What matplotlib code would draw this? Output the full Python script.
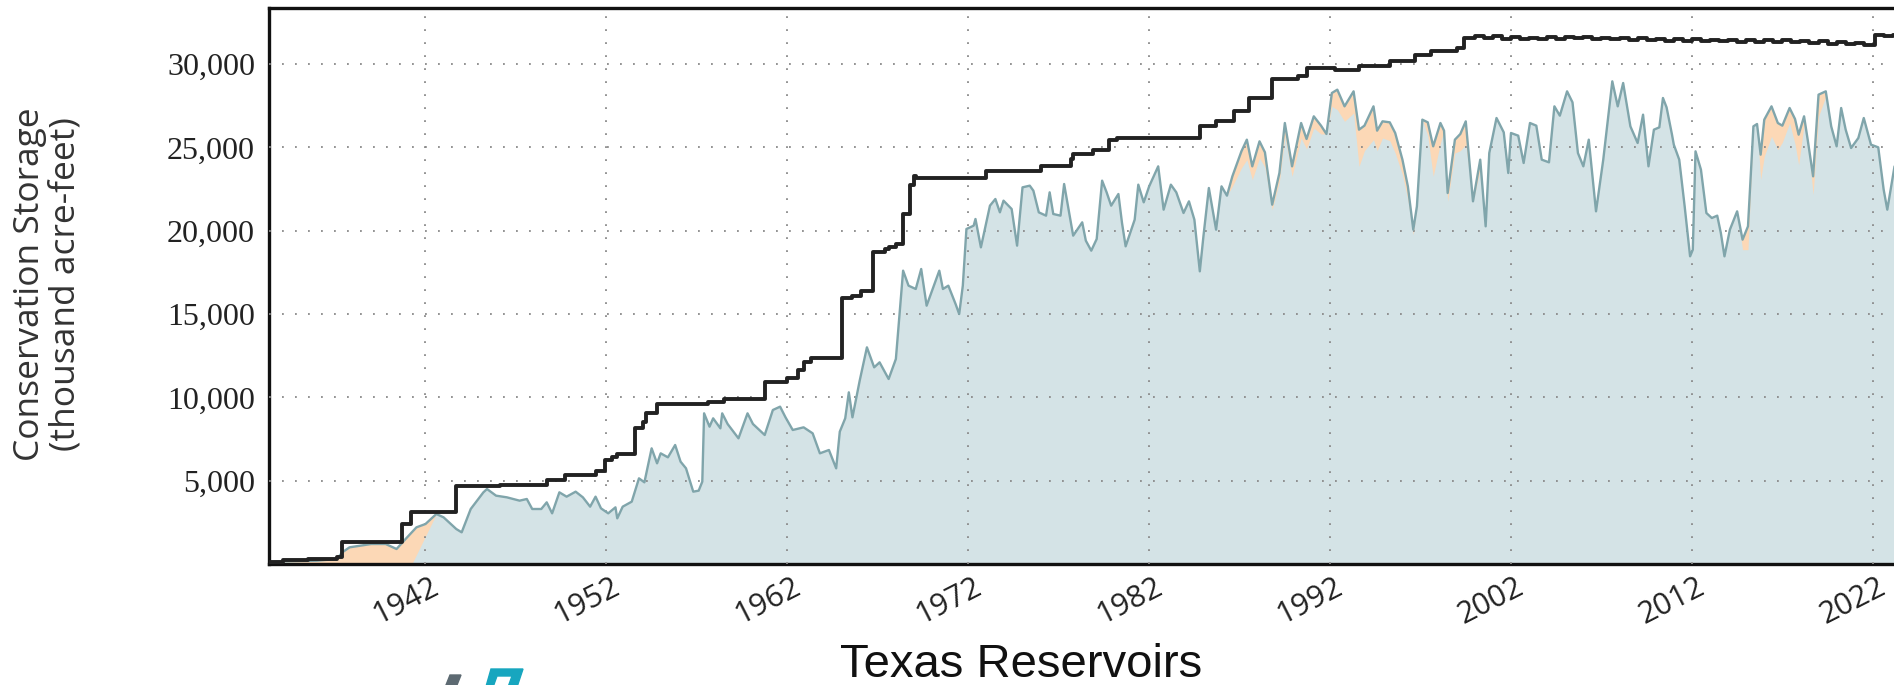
import numpy as np
import matplotlib
matplotlib.use("Agg")
from matplotlib import pyplot as plt
from matplotlib.patches import Polygon
from matplotlib.ticker import FuncFormatter
from matplotlib.transforms import ScaledTranslation

# total conservation capacity (step line), thousand acre-feet
cap_years = [1933.35, 1934.1, 1935.5, 1936.5, 1937.1, 1937.4, 1940.7, 1941.2, 1943.7, 1946.1,
             1948.7, 1949.7, 1951.4, 1951.9, 1952.3, 1952.6, 1953.6, 1954.0, 1954.2, 1954.8,
             1957.6, 1958.5, 1960.75, 1962.0, 1962.6, 1962.9, 1963.3, 1965.0, 1965.6, 1966.1,
             1966.75, 1967.4, 1967.6, 1968.0, 1968.4, 1968.8, 1969.0, 1969.1, 1973.0, 1976.0,
             1977.7, 1977.8, 1978.9, 1979.8, 1980.2, 1984.8, 1985.7, 1986.7, 1987.5, 1988.8,
             1990.2, 1990.7, 1992.3, 1993.6, 1995.3, 1996.7, 1997.6, 1999.0, 1999.4,
             2000.0, 2000.5, 2001.0, 2001.5, 2002.0, 2002.5, 2003.0, 2003.5, 2004.0, 2004.5,
             2005.0, 2005.5, 2006.0, 2006.5, 2007.0, 2007.5, 2008.0, 2008.5, 2009.0, 2009.5,
             2010.0, 2010.5, 2011.0, 2011.5, 2012.0, 2012.5, 2013.0, 2013.5, 2014.0, 2014.5,
             2015.0, 2015.5, 2016.0, 2016.5, 2017.0, 2017.5, 2018.0, 2018.5, 2019.0, 2019.5,
             2020.0, 2020.5, 2021.0, 2021.5, 2022.1, 2022.6, 2023.1, 2023.4]
capacity = [100, 240, 280, 330, 400, 1300, 2400, 3140, 4700, 4760,
            5040, 5340, 5580, 6240, 6440, 6580, 8140, 8540, 9040, 9580,
            9740, 9900, 10940, 11180, 11640, 12140, 12380, 15960, 16100, 16360,
            18740, 18900, 19000, 19200, 21000, 22740, 23260, 23160, 23600, 23900,
            24300, 24600, 24860, 25460, 25580, 26300, 26560, 27160, 27960, 29100,
            29300, 29760, 29660, 29860, 30160, 30560, 30760, 30960, 31560,
            31700, 31560, 31650, 31520, 31600, 31480, 31580, 31500, 31620, 31520,
            31640, 31540, 31620, 31500, 31580, 31480, 31560, 31450, 31540, 31430,
            31520, 31400, 31500, 31380, 31480, 31370, 31460, 31360, 31450, 31340,
            31430, 31330, 31440, 31340, 31420, 31300, 31400, 31280, 31360, 31200,
            31300, 31180, 31260, 31160, 31760, 31680, 31740, 31740]

# reservoir storage, thousand acre-feet
years = [1933.35, 1934.1, 1936.0, 1937.1, 1937.4, 1937.8, 1938.4, 1939.0, 1939.8, 1940.4,
         1940.9, 1941.5, 1942.0, 1942.6, 1943.0, 1943.7, 1944.0, 1944.5, 1945.2, 1945.4,
         1945.9, 1946.5, 1947.2, 1947.6, 1947.9, 1948.4, 1948.7, 1949.0, 1949.4, 1949.8,
         1950.3, 1950.7, 1951.1, 1951.4, 1951.7, 1952.1, 1952.5, 1952.6, 1952.9, 1953.4,
         1953.8, 1954.1, 1954.5, 1954.8, 1955.0, 1955.4, 1955.8, 1956.1, 1956.4, 1956.8,
         1957.1, 1957.3, 1957.4, 1957.7, 1957.9, 1958.3, 1958.4, 1958.7, 1959.3, 1959.8,
         1960.1, 1960.75, 1961.2, 1961.6, 1961.9, 1962.3, 1962.9, 1963.4, 1963.8, 1964.3,
         1964.7, 1964.9, 1965.2, 1965.4, 1965.6, 1966.0, 1966.4, 1966.8, 1967.1, 1967.6,
         1968.0, 1968.4, 1968.7, 1969.1, 1969.4, 1969.7, 1970.4, 1970.6, 1970.9, 1971.3,
         1971.5, 1971.7, 1971.9, 1972.3, 1972.4, 1972.7, 1973.2, 1973.5, 1973.75, 1973.95,
         1974.4, 1974.7, 1975.0, 1975.4, 1975.6, 1975.9, 1976.3, 1976.5, 1976.7, 1977.1,
         1977.3, 1977.8, 1978.3, 1978.5, 1978.8, 1979.1, 1979.4, 1979.65, 1979.9, 1980.3,
         1980.5, 1980.7, 1981.2, 1981.4, 1981.7, 1982.0, 1982.5, 1982.8, 1983.2, 1983.5,
         1983.9, 1984.2, 1984.5, 1984.8, 1985.0, 1985.3, 1985.7, 1986.0, 1986.3, 1986.6,
         1987.1, 1987.4, 1987.7, 1988.1, 1988.4, 1988.8, 1989.2, 1989.5, 1989.9, 1990.4,
         1990.7, 1991.1, 1991.5, 1991.8, 1992.1, 1992.4, 1992.8, 1993.3, 1993.6, 1993.9,
         1994.4, 1994.6, 1994.9, 1995.3, 1995.6, 1996.0, 1996.3, 1996.6, 1996.8, 1997.1,
         1997.4, 1997.7, 1998.1, 1998.3, 1998.5, 1998.9, 1999.2, 1999.5, 1999.9, 2000.3,
         2000.6, 2000.8, 2001.2, 2001.6, 2001.85, 2002.0, 2002.4, 2002.7, 2003.05, 2003.4,
         2003.7, 2004.1, 2004.4, 2004.7, 2005.1, 2005.4, 2005.7, 2006.0, 2006.3, 2006.7,
         2007.1, 2007.4, 2007.6, 2007.9, 2008.2, 2008.6, 2009.0, 2009.3, 2009.6, 2009.9,
         2010.2, 2010.4, 2010.6, 2010.9, 2011.0, 2011.3, 2011.6, 2011.9, 2012.05, 2012.2,
         2012.5, 2012.8, 2013.1, 2013.4, 2013.6, 2013.8, 2014.1, 2014.5, 2014.8, 2015.1,
         2015.4, 2015.6, 2015.8, 2016.0, 2016.4, 2016.75, 2017.0, 2017.4, 2017.7, 2017.9,
         2018.2, 2018.4, 2018.7, 2019.0, 2019.4, 2019.7, 2020.0, 2020.25, 2020.5, 2020.8,
         2021.2, 2021.5, 2021.9, 2022.3, 2022.6, 2022.8, 2023.2, 2023.4]
storage = [100, 150, 200, 300, 700, 1000, 1100, 1200, 1200, 900,
           1500, 2200, 2400, 3000, 2800, 2100, 1900, 3300, 4300, 4500,
           4100, 4000, 3800, 3900, 3300, 3300, 3700, 3040, 4300, 4040,
           4340, 4000, 3440, 4040, 3340, 3040, 3400, 2740, 3440, 3740,
           5140, 4900, 6940, 6040, 6640, 6400, 7140, 6140, 5740, 4340,
           4400, 4940, 9040, 8240, 8740, 8140, 9040, 8400, 7540, 9040,
           8400, 7740, 9240, 9440, 8800, 8040, 8200, 7840, 6640, 6840,
           5740, 7940, 8740, 10300, 8800, 11000, 13000, 11800, 12100, 11100,
           12300, 17600, 16700, 16500, 17700, 15500, 17600, 16500, 16700, 15600,
           15000, 16700, 20100, 20300, 20700, 19000, 21500, 21900, 21100, 21800,
           21300, 19100, 22600, 22700, 22400, 21100, 20900, 22300, 21000, 20900,
           22800, 19700, 20500, 19400, 18800, 19500, 23000, 22300, 21500, 22200,
           20460, 19060, 20660, 22760, 21700, 22660, 23860, 21260, 22760, 22300,
           21060, 21760, 20660, 17560, 19660, 22560, 20060, 22660, 22100, 23260,
           24760, 25460, 23860, 25360, 24700, 21560, 23460, 26460, 23860, 26460,
           25500, 26860, 26300, 25800, 28260, 28460, 27460, 28360, 26060, 26300,
           27460, 26000, 26560, 26500, 25860, 24260, 22660, 20060, 21460, 26660,
           26500, 25060, 26460, 26000, 22260, 25460, 25800, 26560, 21760, 24260,
           20260, 24660, 26760, 25900, 23460, 25860, 25700, 24060, 26460, 26300,
           24260, 24100, 27460, 26900, 28360, 27700, 24660, 23860, 25460, 21160,
           24260, 27060, 28960, 27460, 28860, 26260, 25260, 26960, 23860, 26060,
           26200, 27960, 27400, 25760, 25160, 24260, 21460, 18460, 18860, 24760,
           23660, 21060, 20760, 20900, 19860, 18460, 20060, 21160, 19460, 20260,
           26260, 26400, 24560, 26660, 27460, 26460, 26300, 27360, 26700, 25760,
           26860, 25460, 23260, 28160, 28360, 26260, 25060, 27360, 26060, 24960,
           25560, 26760, 25160, 25000, 22460, 21260, 23860, 24000]

# where the orange layer shows above the blue-grey fill (year: depth below the line)
orange_gap = {1986.6: 600, 1987.1: 1000, 1987.4: 1200, 1987.7: 800, 1988.1: 1000, 1988.4: 900,
              1988.8: 300, 1989.2: 500, 1989.5: 800, 1989.9: 600, 1990.4: 900, 1990.7: 600,
              1991.1: 700, 1991.5: 500, 1992.1: 800, 1992.4: 1200, 1992.8: 900, 1993.3: 1300,
              1993.6: 2200, 1993.9: 1500, 1994.4: 2000, 1994.6: 1200, 1994.9: 1000, 1995.3: 1100,
              1995.6: 1200, 1996.0: 900, 1996.3: 800, 1996.6: 300, 1997.4: 800, 1997.7: 1800,
              1998.1: 1200, 1998.5: 500, 1998.9: 800, 1999.2: 1000, 1999.5: 1400, 2000.3: 600,
              2014.8: 600, 2015.1: 1400, 2015.8: 1500, 2016.0: 2200, 2016.4: 1800, 2016.75: 1600,
              2017.0: 1000, 2017.4: 900, 2017.7: 1500, 2017.9: 1800, 2018.2: 500, 2018.7: 1100,
              2019.0: 1300, 2019.4: 300}
teal_start = 1941.25

xticks = [1942, 1952, 1962, 1972, 1982, 1992, 2002, 2012, 2022]
yticks = [5000, 10000, 15000, 20000, 25000, 30000]

years = np.array(years)
storage = np.array(storage)
teal_top = storage - np.array([orange_gap.get(y, 0) for y in years])
later = years >= 1942.6
teal_x = np.concatenate([[teal_start], years[later]])
teal_y = np.concatenate([[0], teal_top[later]])

fig = plt.figure(figsize=(18.94, 6.85), dpi=100)
ax = fig.add_axes([269 / 1894, 121 / 685, (1909 - 269) / 1894, 556 / 685])

ax.fill_between(years, 0, storage, color="#fcd8b6", lw=0, zorder=1)
ax.fill_between(teal_x, 0, teal_y, color="#d4e3e6", lw=0, zorder=2)
ax.plot(years, storage, color="#80a5ab", lw=1.7, zorder=3)
ax.plot(cap_years, capacity, drawstyle="steps-post", color="#222222", lw=2.8, zorder=4)

ax.set_xlim(1933.35, 2024.0)
ax.set_ylim(0, 33360)
ax.set_xticks(xticks)
ax.set_yticks(yticks)
ax.yaxis.set_major_formatter(FuncFormatter(lambda v, p: f"{int(v):,}"))
ax.grid(True, color="#8a8a8a", lw=1.3, linestyle=(0, (1, 6.2)), zorder=2.5)
ax.set_axisbelow(False)

for s in ["left", "top", "bottom"]:
    ax.spines[s].set_linewidth(2.4)
    ax.spines[s].set_color("#111111")
ax.spines["right"].set_visible(False)

ax.tick_params(axis="both", length=0)
ax.tick_params(axis="y", pad=10, labelsize=23, labelcolor="#222222")
ax.tick_params(axis="x", pad=6, labelsize=22, labelcolor="#222222")
for lab in ax.get_yticklabels():
    lab.set_fontfamily("Liberation Serif")
shift = ScaledTranslation(-0.2, 0, fig.dpi_scale_trans)
for lab in ax.get_xticklabels():
    lab.set_fontfamily("Open Sans")
    lab.set_rotation(27)
    lab.set_ha("center")
    lab.set_transform(lab.get_transform() + shift)

fig.text(48 / 1894, 0.585, "Conservation Storage\n(thousand acre-feet)", rotation=90,
         ha="center", va="center", multialignment="center", fontsize=25.5,
         family="Open Sans", color="#333333", linespacing=1.05)

fig.text(1021 / 1894, 0.012, "Texas Reservoirs", ha="center", va="baseline",
         fontsize=34, family="Liberation Sans", color="#111111")

# partial logo at the bottom edge
def px(points):
    return [(x / 1894, 1 - y / 685) for x, y in points]

fig.patches.append(Polygon(px([(450, 675), (461, 675), (455, 690), (444, 690)]),
                           closed=True, color="#5d6a72", transform=fig.transFigure))
fig.patches.append(Polygon(px([(491, 669), (523, 669), (516, 690), (507, 690), (512, 676),
                               (497, 676), (492, 690), (485, 690)]),
                           closed=True, color="#17a6bf", transform=fig.transFigure))

fig.savefig("out.png", dpi=100)
